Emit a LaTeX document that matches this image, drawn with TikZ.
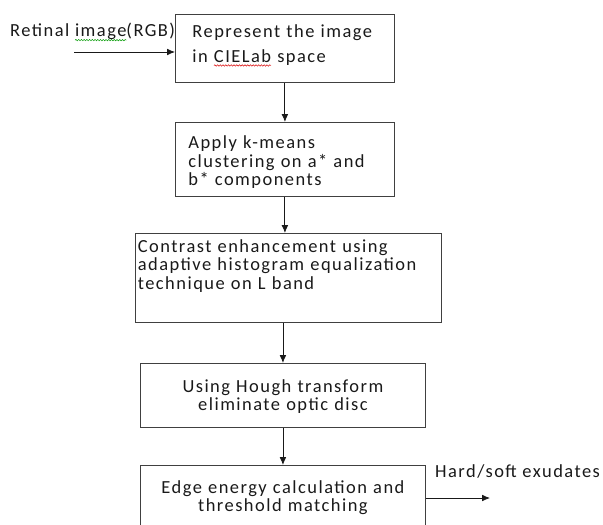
\documentclass[tikz,border=0pt]{standalone}
\usepackage{fontspec}
\setmainfont{Carlito}[LetterSpace=8]
\usetikzlibrary{arrows.meta,positioning,decorations.pathmorphing}

\newsavebox\wavebox
\newcommand\spellwave[2]{\sbox\wavebox{#2}\rlap{\tikz[overlay]\draw[#1, line width=0.45pt, decorate,
  decoration={snake, amplitude=0.7pt, segment length=2.6pt}] (0,-3pt) -- (\wd\wavebox,-3pt);}\usebox\wavebox}

\tikzset{
  stagebox/.style={draw=black!75, line width=0.8pt, anchor=north west, inner ysep=0pt,
    text=black!90, font=\fontsize{17.5}{17.6}\selectfont},
  flowarrow/.style={-{Latex[length=2.6mm,width=2.2mm]}, line width=0.8pt, black!90},
  plainlabel/.style={inner sep=0pt, anchor=base west, text=black!90,
    font=\fontsize{17.5}{17.6}\selectfont}
}

\begin{document}
\begin{tikzpicture}
\useasboundingbox (0,0) rectangle (20.1,-17.467);
\node[stagebox, inner xsep=0.567cm, text width=6.166cm, align=left, text height=0.767cm, text depth=1.5cm] (b1) at (5.833,-0.467)
  {Represent the image\\[6pt]in \spellwave{red!85!black}{CIELab} space};
\node[stagebox, inner xsep=0.433cm, text width=6.434cm, align=left, text height=0.867cm, text depth=1.6cm] (b2) at (5.833,-4.067)
  {Apply k-means\\clustering on a* and\\b* components};
\node[stagebox, inner xsep=0.08cm, text width=10.04cm, align=left, text height=0.633cm, text depth=2.333cm] (b3) at (4.5,-7.767)
  {Contrast enhancement using\\adaptive histogram equalization\\technique on L band};
\node[stagebox, inner xsep=0.1cm, text width=9.3cm, align=center, text height=0.967cm, text depth=1.167cm] (b4) at (4.667,-12.1)
  {Using Hough transform\\eliminate optic disc};
\node[stagebox, inner xsep=0.1cm, text width=9.3cm, align=center, text height=0.933cm, text depth=1.267cm] (b5) at (4.667,-15.5)
  {Edge energy calculation and\\threshold matching};

\node[plainlabel] (src) at (0.333,-1.233) {Retinal \spellwave{green!60!black}{image}(RGB)};
\node[plainlabel] (dst) at (14.5,-15.9) {Hard/soft exudates};
\coordinate (in) at (2.467,-1.733);
\coordinate (out) at (16.333,-16.6);

\draw[flowarrow] (in) -- (in -| b1.west);
\draw[flowarrow] (b1.south) -- (b2.north);
\draw[flowarrow] (b2.south) -- (b2.south |- b3.north);
\draw[flowarrow] (b4.north |- b3.south) -- (b4.north);
\draw[flowarrow] (b4.south) -- (b5.north);
\draw[flowarrow] (out -| b5.east) -- (out);
\end{tikzpicture}
\end{document}
